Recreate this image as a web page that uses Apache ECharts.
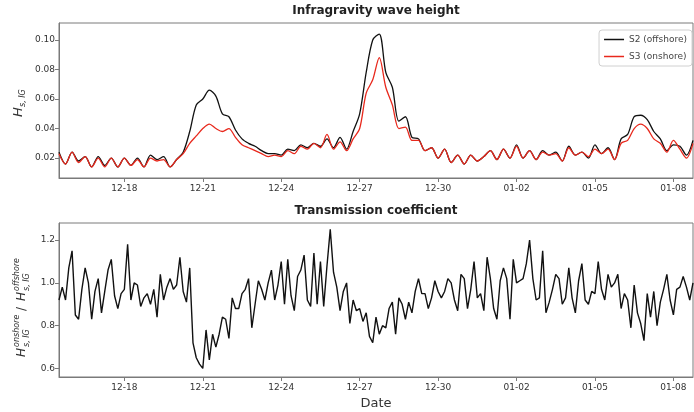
<!DOCTYPE html>
<html>
<head>
<meta charset="utf-8">
<script src="https://cdn.jsdelivr.net/npm/echarts@6/dist/echarts.min.js"></script>
<style>
  html, body { margin: 0; padding: 0; background: #fff; }
  #chart { width: 694px; height: 412px; }
</style>
</head>
<body>
<div id="chart"></div>
<script>
const HOUR = 3600 * 1000;

// infragravity wave height, one value every 6 hours from 12-15 12:00
const hsStart = Date.UTC(2017, 11, 15, 12);
const hsStepHours = 6;
const offshoreHs = [
    0.024, 0.016, 0.024, 0.018, 0.021, 0.014, 0.021, 0.015, 0.020, 0.014,
    0.020, 0.015, 0.020, 0.014, 0.022, 0.019, 0.021, 0.014, 0.019, 0.024,
    0.038, 0.056, 0.060, 0.066, 0.062, 0.050, 0.048, 0.039, 0.033, 0.030,
    0.028, 0.025, 0.023, 0.023, 0.022, 0.026, 0.025, 0.029, 0.027, 0.030,
    0.028, 0.033, 0.027, 0.034, 0.026, 0.038, 0.050, 0.078, 0.100, 0.104,
    0.078, 0.068, 0.045, 0.048, 0.034, 0.033, 0.025, 0.027, 0.020, 0.026,
    0.017, 0.022, 0.016, 0.022, 0.018, 0.021, 0.025, 0.019, 0.026, 0.020,
    0.029, 0.020, 0.025, 0.019, 0.025, 0.022, 0.024, 0.018, 0.028, 0.022,
    0.024, 0.020, 0.029, 0.023, 0.027, 0.019, 0.033, 0.036, 0.048, 0.049,
    0.046, 0.038, 0.033, 0.025, 0.029, 0.028, 0.022, 0.032
];
const onshoreHs = [
    0.023, 0.016, 0.024, 0.017, 0.021, 0.014, 0.020, 0.014, 0.020, 0.014,
    0.020, 0.015, 0.019, 0.014, 0.020, 0.018, 0.019, 0.014, 0.019, 0.023,
    0.030, 0.035, 0.040, 0.043, 0.040, 0.038, 0.040, 0.034, 0.029, 0.027,
    0.025, 0.023, 0.021, 0.022, 0.021, 0.025, 0.023, 0.028, 0.026, 0.030,
    0.027, 0.036, 0.026, 0.031, 0.025, 0.033, 0.040, 0.064, 0.073, 0.088,
    0.068, 0.056, 0.040, 0.041, 0.032, 0.032, 0.025, 0.027, 0.020, 0.026,
    0.017, 0.022, 0.016, 0.022, 0.018, 0.021, 0.025, 0.019, 0.026, 0.020,
    0.028, 0.020, 0.025, 0.019, 0.024, 0.022, 0.023, 0.018, 0.027, 0.022,
    0.024, 0.021, 0.026, 0.023, 0.026, 0.019, 0.030, 0.032, 0.040, 0.043,
    0.040, 0.033, 0.030, 0.024, 0.032, 0.026, 0.020, 0.030
];

// transmission coefficient, one value every 3 hours from 12-15 12:00
const ktStart = Date.UTC(2017, 11, 15, 12);
const ktStepHours = 3;
const transmission = [
    0.92, 0.98, 0.92, 1.07, 1.15, 0.85, 0.83, 0.97, 1.07, 1.00,
    0.83, 0.96, 1.02, 0.86, 0.96, 1.06, 1.11, 0.94, 0.88, 0.95,
    0.97, 1.18, 0.92, 1.00, 0.99, 0.89, 0.93, 0.95, 0.90, 0.97,
    0.84, 1.04, 0.92, 0.98, 1.02, 0.97, 0.99, 1.12, 0.96, 0.91,
    1.07, 0.72, 0.65, 0.62, 0.60, 0.78, 0.64, 0.76, 0.70, 0.76,
    0.84, 0.83, 0.74, 0.93, 0.88, 0.88, 0.95, 0.97, 1.02, 0.79,
    0.90, 1.01, 0.97, 0.92, 1.00, 1.06, 0.92, 0.99, 1.10, 0.90,
    1.11, 0.94, 0.87, 1.03, 1.06, 1.13, 0.92, 0.89, 1.14, 0.90,
    1.10, 0.89, 1.08, 1.25, 1.05, 0.98, 0.87, 0.96, 1.00, 0.81,
    0.92, 0.87, 0.88, 0.82, 0.86, 0.75, 0.72, 0.84, 0.76,
    0.80, 0.79, 0.88, 0.91, 0.76, 0.93, 0.90, 0.83, 0.91, 0.86,
    0.96, 1.02, 0.95, 0.95, 0.88, 0.93, 1.01, 0.96, 0.93, 0.96,
    1.02, 1.00, 0.92, 0.87, 1.04, 1.02, 0.88, 0.97, 1.10, 0.93,
    0.95, 0.87, 1.12, 1.02, 0.88, 0.83, 1.01, 1.07, 1.02, 0.83,
    1.11, 1.00, 1.01, 1.02, 1.09, 1.20, 1.02, 0.92, 0.93,
    1.15, 0.86, 0.91, 0.97, 1.04, 1.02, 0.90, 0.93, 1.07, 0.93,
    0.86, 1.01, 1.09, 0.92, 0.90, 0.96, 0.95, 1.10, 0.97, 0.92,
    1.04, 0.98, 1.00, 1.04, 0.88, 0.95, 0.92, 0.79, 0.99, 0.86,
    0.81, 0.73, 0.95, 0.84, 0.96, 0.80, 0.91, 0.97, 1.04, 0.92,
    0.85, 0.97, 0.98, 1.03, 0.98, 0.92, 1.00
];

// axis ticks
const tickDates = ['2017-12-18', '2017-12-21', '2017-12-24', '2017-12-27',
                   '2017-12-30', '2018-01-02', '2018-01-05', '2018-01-08'];
const hsTicks = [0.02, 0.04, 0.06, 0.08, 0.10];
const ktTicks = [0.6, 0.8, 1.0, 1.2];

function toPairs(start, stepHours, values) {
    return values.map(function(v, i) {
        return [start + i * stepHours * HOUR, v];
    });
}

const tickTimes = tickDates.map(function(d) { return Date.parse(d + 'T00:00:00Z'); });
const xMin = hsStart;
const xMax = hsStart + (offshoreHs.length - 1) * hsStepHours * HOUR;

const FONT = 'DejaVu Sans';
const frame = '#7a7a7a';

function timeAxis(gridIndex, extra) {
    return Object.assign({
        type: 'time',
        gridIndex: gridIndex,
        min: xMin,
        max: xMax,
        axisLine: { lineStyle: { color: frame } },
        axisTick: { customValues: tickTimes, length: 4, lineStyle: { color: frame } },
        axisLabel: {
            customValues: tickTimes,
            margin: 6,
            fontFamily: FONT,
            fontSize: 9,
            color: '#333',
            formatter: '{MM}-{dd}'
        },
        splitLine: { show: false }
    }, extra || {});
}

function valueAxis(gridIndex, min, max, ticks, digits) {
    return {
        type: 'value',
        gridIndex: gridIndex,
        min: min,
        max: max,
        axisLine: { show: true, lineStyle: { color: frame } },
        axisTick: { show: true, customValues: ticks, length: 4, lineStyle: { color: frame } },
        axisLabel: {
            customValues: ticks,
            margin: 4,
            fontFamily: FONT,
            fontSize: 9,
            color: '#333',
            formatter: function(v) { return v.toFixed(digits); }
        },
        splitLine: { show: false }
    };
}

function mathText(text, x, y, size, italic) {
    return {
        type: 'text',
        x: x,
        y: y,
        style: {
            text: text,
            fontFamily: FONT,
            fontSize: size,
            fontStyle: italic ? 'italic' : 'normal',
            fill: '#333',
            verticalAlign: 'middle'
        }
    };
}

var chart = echarts.init(document.getElementById('chart'));

option = {
    useUTC: true,
    animation: false,
    title: [
        { text: 'Infragravity wave height', left: 376, top: 5, textAlign: 'center', padding: 0,
          textStyle: { fontFamily: FONT, fontSize: 12, fontWeight: 'bold', color: '#222' } },
        { text: 'Transmission coefficient', left: 376, top: 205, textAlign: 'center', padding: 0,
          textStyle: { fontFamily: FONT, fontSize: 12, fontWeight: 'bold', color: '#222' } }
    ],
    legend: {
        data: ['S2 (offshore)', 'S3 (onshore)'],
        orient: 'vertical',
        right: 2,
        top: 30,
        icon: 'rect',
        itemWidth: 20,
        itemHeight: 1.5,
        itemGap: 8,
        padding: [5, 5, 5, 5],
        borderColor: '#d0d0d0',
        borderWidth: 1,
        borderRadius: 3,
        backgroundColor: 'rgba(255,255,255,0.85)',
        textStyle: { fontFamily: FONT, fontSize: 9, color: '#444' }
    },
    grid: [
        { left: 59, top: 23, width: 634, height: 155, show: true, borderColor: frame, borderWidth: 1 },
        { left: 59, top: 223, width: 634, height: 154, show: true, borderColor: frame, borderWidth: 1 }
    ],
    xAxis: [
        timeAxis(0),
        timeAxis(1, {
            name: 'Date',
            nameLocation: 'middle',
            nameGap: 20,
            nameTextStyle: { fontFamily: FONT, fontSize: 13, color: '#333' }
        })
    ],
    yAxis: [
        valueAxis(0, 0.0065, 0.1115, hsTicks, 2),
        valueAxis(1, 0.56, 1.28, ktTicks, 1)
    ],
    graphic: [
        {
            type: 'group', x: 19, y: 117, rotation: Math.PI / 2,
            children: [
                mathText('H', 0, 0, 13, true),
                mathText('s, IG', 10, 4, 8, true)
            ]
        },
        {
            type: 'group', x: 22, y: 357, rotation: Math.PI / 2,
            children: [
                mathText('H', 0, 0, 12, true),
                mathText('onshore', 10, -5, 8, true),
                mathText('s, IG', 10, 5, 8, true),
                mathText('/', 46, 0, 12, false),
                mathText('H', 56, 0, 12, true),
                mathText('offshore', 66, -5, 8, true),
                mathText('s, IG', 66, 5, 8, true)
            ]
        }
    ],
    series: [
        {
            name: 'S2 (offshore)',
            type: 'line',
            xAxisIndex: 0,
            yAxisIndex: 0,
            symbol: 'none',
            smooth: 0.3,
            lineStyle: { color: '#111', width: 1.3 },
            itemStyle: { color: '#111' },
            data: toPairs(hsStart, hsStepHours, offshoreHs)
        },
        {
            name: 'S3 (onshore)',
            type: 'line',
            xAxisIndex: 0,
            yAxisIndex: 0,
            symbol: 'none',
            smooth: 0.3,
            lineStyle: { color: '#e8281c', width: 1.3 },
            itemStyle: { color: '#e8281c' },
            data: toPairs(hsStart, hsStepHours, onshoreHs)
        },
        {
            name: 'Transmission',
            type: 'line',
            xAxisIndex: 1,
            yAxisIndex: 1,
            symbol: 'none',
            lineStyle: { color: '#111', width: 1.4 },
            data: toPairs(ktStart, ktStepHours, transmission)
        }
    ]
};

chart.setOption(option);
</script>
</body>
</html>
